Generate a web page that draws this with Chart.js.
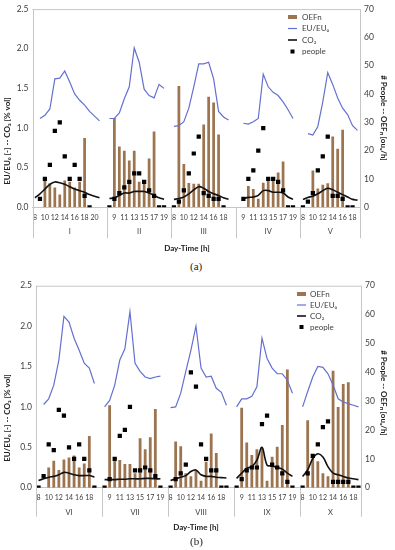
<!DOCTYPE html>
<html>
<head>
<meta charset="utf-8">
<script src="https://cdn.jsdelivr.net/npm/chart.js@4.4.0/dist/chart.umd.min.js"></script>
<style>
  body { margin: 0; background: #fff; width: 395px; height: 550px; overflow: hidden; position: relative; }
  .panel { position: absolute; left: 0; width: 395px; }
  #wrapA { top: 0; height: 258px; }
  #wrapB { top: 275px; height: 275px; }
  .tag { position: absolute; font-family: 'Liberation Serif', serif; font-size: 11px; color: #222; }
</style>
</head>
<body>
<div class="panel" id="wrapA"><canvas id="chartA"></canvas></div>
<div class="tag" style="left:190px;top:260px">(a)</div>
<div class="panel" id="wrapB"><canvas id="chartB"></canvas></div>
<div class="tag" style="left:190px;top:535px">(b)</div>
<script>
// ---- panel (a): days I-V ----
const groupsA = ['I', 'II', 'III', 'IV', 'V']
const hoursA = [
  [8, 9, 10, 11, 12, 13, 14, 15, 16, 17, 18, 19, 20, 21, ''],
  [8, 9, 10, 11, 12, 13, 14, 15, 16, 17, 18, 19, ''],
  [8, 9, 10, 11, 12, 13, 14, 15, 16, 17, 18, 19, ''],
  [8, 9, 10, 11, 12, 13, 14, 15, 16, 17, 18, 19, 20],
  [8, 9, 10, 11, 12, 13, 14, 15, 16, 17, 18, 19]
]
const oefA = [
  [null, null, 10, 8.5, 7, 4.5, 9.5, 9, 7, 9, 24.5, null, null, null, null],
  [null, 31.5, 21.5, 20, 16.5, 20, 9, 8.5, 17.2, 26.8, null, null, null],
  [null, 42.8, 15.3, 8.6, 8.3, 8.3, 29.2, 39, 37, 25.7, null, null, null],
  [null, null, 7.5, 6.5, 3, 8.7, 10, 10.5, 12.3, 16.2, null, null, null],
  [null, null, 13, 6.6, 8, 8.5, 25, 20.7, 27.4, null, null, null]
]
const euA = [
  [null, 1.12, 1.16, 1.24, 1.62, 1.63, 1.72, 1.58, 1.43, 1.35, 1.29, 1.21, 1.15, 1.09, null],
  [1.12, 1.12, 1.19, 1.37, 1.52, 2.01, 1.83, 1.49, 1.41, 1.38, 1.55, 1.5, null],
  [1.02, 1.03, 1.08, 1.25, 1.52, 1.81, 1.81, 1.83, 1.62, 1.21, 1.14, 1.1, null],
  [null, 1.06, 1.05, 1.08, 1.12, 1.68, 1.52, 1.45, 1.41, 1.33, 1.23, 1.12, null],
  [null, 0.93, 0.91, 1.02, 1.33, 1.7, 1.55, 1.38, 1.25, 1.17, 1.03, 0.97]
]
const co2A = [
  [0.12, 0.17, 0.23, 0.29, 0.32, 0.31, 0.29, 0.26, 0.23, 0.21, 0.19, 0.16, 0.14, 0.12, null],
  [0.11, 0.12, 0.15, 0.18, 0.18, 0.2, 0.2, 0.2, 0.18, 0.15, 0.12, 0.1, null],
  [0.1, 0.11, 0.13, 0.17, 0.22, 0.26, 0.24, 0.2, 0.17, 0.15, 0.12, 0.1, null],
  [null, 0.11, 0.125, 0.13, 0.15, 0.21, 0.21, 0.19, 0.19, 0.18, 0.13, 0.1, null],
  [0.1, 0.125, 0.14, 0.17, 0.21, 0.24, 0.22, 0.19, 0.16, 0.13, 0.1, 0.09]
]
const peopleA = [
  [null, 3, 10, 15, 27, 30, 18, 10, 15, 10, 4, 0, null, null, null],
  [0, 3, 5, 7, 9, 12, 12, 9, 6, 4, 0, 0, null],
  [0, 2, 6, 12, 19, 25, 5, 4, 3, 3, 0, null, null],
  [null, 3, 10, 13, 20, 28, 10, 10, 9, 6, 0, 0, null],
  [0, 2, 5, 13, 18, 25, 4, 4, 3, 0, 0, null]
]

// ---- panel (b): days VI-X ----
const groupsB = ['VI', 'VII', 'VIII', 'IX', 'X']
const hoursB = [
  [8, 9, 10, 11, 12, 13, 14, 15, 16, 17, 18, 19, ''],
  [8, 9, 10, 11, 12, 13, 14, 15, 16, 17, 18, 19, ''],
  [8, 9, 10, 11, 12, 13, 14, 15, 16, 17, 18, 19, ''],
  [8, 9, 10, 11, 12, 13, 14, 15, 16, 17, 18, 19, ''],
  [8, 9, 10, 11, 12, 13, 14, 15, 16, 17, 18, 19]
]
const oefB = [
  [null, null, 7, 9.3, 6.1, 9.8, 10.5, 11.2, 7, 8.4, 17.9, null, null],
  [null, 28.6, 10.5, 9.6, 8.2, 8.2, 5, 17.1, 13.3, 17.5, 27.3, null, null],
  [null, 16, 14.4, 5, 4, 6, 2.4, 9, 18.8, 12, null, null, null],
  [null, 27.7, 15.7, 11.3, 13.3, 13.6, 2.4, 10.7, 14.2, 21.7, 41, null, null],
  [null, 23.4, 10.2, 9.2, 5, 4, 40.5, 28, 35.9, 36.5, null, null]
]
const euB = [
  [null, 1.03, 1.1, 1.27, 1.58, 2.12, 2.05, 1.85, 1.7, 1.54, 1.48, 1.29, null],
  [1.0, 1.08, 1.27, 1.58, 1.72, 2.18, 1.54, 1.44, 1.37, 1.35, 1.37, 1.38, null],
  [0.99, 1.0, 1.17, 1.44, 1.7, 2.0, 1.48, 1.37, 1.38, 1.23, 1.18, 1.02, null],
  [1.0, 1.1, 1.1, 1.13, 1.25, 1.85, 1.6, 1.48, 1.41, 1.41, 1.33, 1.17, null],
  [1.0, 1.19, 1.37, 1.5, 1.49, 1.41, 1.27, 1.1, 1.06, 1.04, 1.02, 1.0]
]
const co2B = [
  [0.09, 0.11, 0.13, 0.14, 0.16, 0.19, 0.18, 0.16, 0.15, 0.15, 0.15, 0.13, null],
  [0.1, 0.1, 0.1, 0.105, 0.105, 0.11, 0.11, 0.11, 0.115, 0.115, 0.11, 0.11, null],
  [0.09, 0.11, 0.13, 0.15, 0.2, 0.22, 0.16, 0.14, 0.14, 0.13, 0.125, 0.12, null],
  [0.115, 0.18, 0.24, 0.26, 0.34, 0.5, 0.28, 0.27, 0.25, 0.23, 0.18, 0.14, null],
  [0.14, 0.22, 0.36, 0.42, 0.38, 0.26, 0.18, 0.16, 0.14, 0.12, 0.11, 0.1]
]
const peopleB = [
  [0, 4, 15, 13, 27, 25, 14, 10, 15, 10, 6, 0, null],
  [0, 3, 10, 18, 20, 28, 6, 6, 7, 6, 4, 0, null],
  [0, 3, 5, 8, 40, 35, 15, 10, 6, 6, 0, 0, null],
  [0, 3, 6, 7, 7, 22, 25, 8, 7, 5, 2, 0, null],
  [0, 5, 11, 15, 21, 23, 2, 2, 2, 2, 0, 0]
]

const BROWN = '#9c7450'
const BLUE = '#6470d0'
const GRAYLINE = '#c6c6c6'
const TXT = '#404040'

Chart.defaults.font.family = 'Lato, sans-serif'
Chart.defaults.color = TXT

const flat = arr => [].concat(...arr)
const groupBounds = arr => {
  let n = 0
  return arr.slice(0, -1).map(g => (n += g.length))
}

// separators, group names, titles and legend
const decor = {
  id: 'decor',
  afterDraw(chart, args, o) {
    const { ctx, chartArea: a, scales: { x } } = chart
    const line = (x0, y0, x1, y1) => {
      ctx.beginPath(); ctx.moveTo(x0, y0); ctx.lineTo(x1, y1); ctx.stroke()
    }
    ctx.save()
    ctx.strokeStyle = GRAYLINE
    ctx.lineWidth = 1
    line(a.left, a.top + 0.5, a.right, a.top + 0.5)
    const edges = [a.left]
    o.bounds.forEach(b => edges.push((x.getPixelForValue(b - 1) + x.getPixelForValue(b)) / 2))
    edges.push(a.right)
    edges.forEach((e, i) => {
      const px = Math.round(e) + 0.5
      const top = (i === 0 || i === edges.length - 1) ? a.top : a.bottom
      line(px, top, px, a.bottom + o.sepLen)
    })

    ctx.fillStyle = TXT
    ctx.font = '7.5px Lato, sans-serif'
    ctx.textAlign = 'center'
    ctx.textBaseline = 'middle'
    o.groups.forEach((g, i) => ctx.fillText(g, (edges[i] + edges[i + 1]) / 2, a.bottom + o.groupY))

    ctx.fillStyle = '#222'
    ctx.font = 'bold 8px Lato, sans-serif'
    ctx.fillText('Day-Time [h]', o.xTitle[0], o.xTitle[1])

    ctx.save()
    ctx.translate(o.leftTitle[0], o.leftTitle[1])
    ctx.rotate(-Math.PI / 2)
    ctx.fillText('EU/EU\u2080 [-] -- CO\u2082 [% vol]', 0, 0)
    ctx.restore()
    ctx.save()
    ctx.translate(o.rightTitle[0], o.rightTitle[1])
    ctx.rotate(Math.PI / 2)
    ctx.fillText('# People -- OEF\u2099 [ou\u2091/h]', 0, 0)
    ctx.restore()

    // legend
    ctx.font = '8px Lato, sans-serif'
    ctx.textAlign = 'left'
    const [lx, ly, step, tx] = o.legend
    const items = chart.data.datasets.slice().reverse()
    items.forEach((ds, i) => {
      const y = ly + i * step
      if (ds.type === 'bar') {
        ctx.fillStyle = ds.backgroundColor
        ctx.fillRect(lx, y - 2, 9, 4)
      } else if (ds.showLine === false) {
        ctx.fillStyle = '#000'
        ctx.fillRect(lx + 2.5, y - 2, 4, 4)
      } else {
        ctx.strokeStyle = ds.borderColor
        ctx.lineWidth = ds.borderWidth
        line(lx, y, lx + 9, y)
      }
      ctx.fillStyle = TXT
      ctx.fillText(ds.label, tx, y)
    })
    ctx.restore()
  }
}

function drawPanel(id, d, o) {
  const labels = flat(d.hours)
  return new Chart(document.getElementById(id), {
    type: 'bar',
    data: {
      labels,
      datasets: [
        {
          type: 'line', label: 'people', data: flat(d.people), yAxisID: 'y1',
          showLine: false, pointStyle: 'rect', pointRadius: 3, pointBorderWidth: 0,
          pointBackgroundColor: '#000', order: 0
        },
        {
          type: 'line', label: 'CO\u2082', data: flat(d.co2), yAxisID: 'y',
          borderColor: '#111', borderWidth: 1.6, pointRadius: 0, tension: 0.35, order: 1
        },
        {
          type: 'line', label: 'EU/EU\u2080', data: flat(d.eu), yAxisID: 'y',
          borderColor: BLUE, borderWidth: 1.2, pointRadius: 0, tension: 0, order: 2
        },
        {
          type: 'bar', label: 'OEFn', data: flat(d.oef), yAxisID: 'y1',
          backgroundColor: BROWN, barPercentage: 0.55, categoryPercentage: 1, order: 3
        }
      ]
    },
    options: {
      responsive: true,
      maintainAspectRatio: false,
      animation: false,
      layout: { padding: { top: o.top, left: 0, right: 0, bottom: 0 } },
      plugins: {
        legend: { display: false },
        tooltip: { enabled: false },
        decor: o
      },
      scales: {
        x: {
          offset: true,
          grid: { display: false, drawTicks: false },
          border: { display: true, color: GRAYLINE },
          ticks: {
            autoSkip: false, maxRotation: 0, padding: 6,
            font: { size: 7 }, color: TXT,
            callback: (v, i) => i % 2 === 0 ? labels[i] : ''
          },
          afterFit: s => { s.height = o.xHeight }
        },
        y: {
          position: 'left', min: 0, max: 2.5,
          grid: { display: false, drawTicks: false },
          border: { display: false },
          ticks: { stepSize: 0.5, padding: 4, font: { size: 8.5 }, color: TXT, callback: v => v.toFixed(1) },
          afterFit: s => { s.width = o.leftW }
        },
        y1: {
          position: 'right', min: 0, max: 70,
          grid: { display: false, drawTicks: false },
          border: { display: false },
          ticks: { stepSize: 10, padding: 4, font: { size: 8.5 }, color: TXT },
          afterFit: s => { s.width = o.rightW }
        }
      }
    },
    plugins: [decor]
  })
}

drawPanel('chartA',
  { hours: hoursA, oef: oefA, eu: euA, co2: co2A, people: peopleA },
  {
    groups: groupsA, bounds: groupBounds(hoursA),
    top: 5.7, leftW: 32.5, rightW: 35, xHeight: 258 - 207.3,
    sepLen: 31, groupY: 24, xTitle: [187, 248],
    leftTitle: [7, 141], rightTitle: [384, 118],
    legend: [288, 17, 11.5, 302]
  })

drawPanel('chartB',
  { hours: hoursB, oef: oefB, eu: euB, co2: co2B, people: peopleB },
  {
    groups: groupsB, bounds: groupBounds(hoursB),
    top: 10.7, leftW: 36, rightW: 34, xHeight: 275 - 212.7,
    sepLen: 29, groupY: 25, xTitle: [196, 252],
    leftTitle: [7, 143], rightTitle: [384, 118],
    legend: [297, 19, 11, 310]
  })
</script>
</body>
</html>
